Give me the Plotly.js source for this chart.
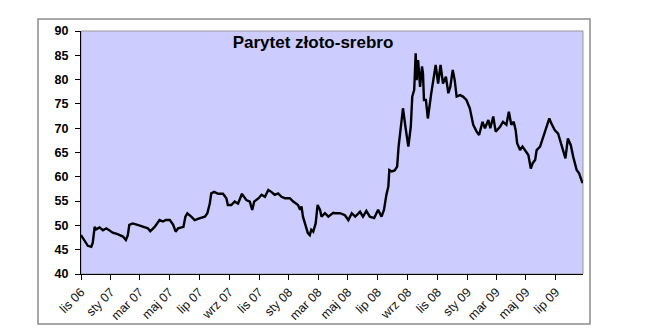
<!DOCTYPE html>
<html>
<head>
<meta charset="utf-8">
<script src="https://cdn.plot.ly/plotly-3.0.1.min.js"></script>
<style>html,body{margin:0;padding:0;background:#fff;}#chart{width:645px;height:330px;}</style>
</head>
<body>
<div id="chart"></div>
<script>
const dates = [
"2006-11-01","2006-11-08","2006-11-15","2006-11-22","2006-11-25","2006-11-29","2006-12-02","2006-12-09","2006-12-16","2006-12-23","2006-12-30",
"2007-01-05","2007-01-15","2007-01-26","2007-02-01","2007-02-05","2007-02-08","2007-02-15","2007-02-25","2007-03-08","2007-03-18","2007-03-23",
"2007-04-01","2007-04-11","2007-04-18","2007-04-24","2007-05-02","2007-05-09","2007-05-14","2007-05-19","2007-05-30","2007-06-03","2007-06-07",
"2007-06-15","2007-06-22","2007-07-03","2007-07-13","2007-07-18","2007-07-23","2007-07-26","2007-08-01","2007-08-09","2007-08-19","2007-08-26",
"2007-08-29","2007-09-05","2007-09-12","2007-09-19","2007-09-27","2007-10-06","2007-10-13","2007-10-18","2007-10-22","2007-10-31","2007-11-06",
"2007-11-13","2007-11-20","2007-11-26","2007-12-03","2007-12-10","2007-12-17","2007-12-24","2008-01-03","2008-01-10","2008-01-20","2008-01-24",
"2008-01-27","2008-01-30","2008-02-03","2008-02-06","2008-02-09","2008-02-13","2008-02-16","2008-02-20","2008-02-25","2008-02-29","2008-03-05",
"2008-03-08","2008-03-15","2008-03-22","2008-04-01","2008-04-04","2008-04-15","2008-04-25","2008-05-02","2008-05-09","2008-05-16","2008-05-26",
"2008-06-01","2008-06-08","2008-06-15","2008-06-24","2008-07-02","2008-07-09","2008-07-14","2008-07-19","2008-07-23","2008-07-25","2008-07-30",
"2008-08-05","2008-08-10","2008-08-13","2008-08-17","2008-08-22","2008-08-27","2008-09-02","2008-09-07","2008-09-10","2008-09-14","2008-09-17",
"2008-09-19","2008-09-22","2008-09-26","2008-09-30","2008-10-02","2008-10-04","2008-10-08","2008-10-12","2008-10-19","2008-10-23","2008-10-28",
"2008-11-02","2008-11-07","2008-11-12","2008-11-18","2008-11-23","2008-11-27","2008-12-02","2008-12-06","2008-12-10","2008-12-17","2008-12-23",
"2008-12-30","2009-01-06","2009-01-13","2009-01-20","2009-01-25","2009-02-01","2009-02-06","2009-02-13","2009-02-17","2009-02-23","2009-02-28",
"2009-03-09","2009-03-15","2009-03-22","2009-03-27","2009-04-01","2009-04-06","2009-04-10","2009-04-13","2009-04-19","2009-04-24","2009-05-01",
"2009-05-06","2009-05-11","2009-05-15","2009-05-20","2009-05-23","2009-05-30","2009-06-05","2009-06-12","2009-06-18","2009-06-22","2009-06-29",
"2009-07-06","2009-07-13","2009-07-16","2009-07-21","2009-07-26","2009-08-01","2009-08-06","2009-08-13","2009-08-18","2009-08-23","2009-08-25"
];
const ratio = [
48.0,47.0,45.8,45.6,46.4,49.7,49.2,49.6,49.0,49.4,48.9,
48.5,48.2,47.7,47.0,48.0,50.1,50.4,50.1,49.7,49.4,48.8,
49.7,51.1,50.8,51.1,51.1,50.1,48.7,49.4,49.7,51.8,52.5,
51.8,51.1,51.5,51.8,52.5,54.5,56.6,56.9,56.5,56.5,55.6,
54.2,54.2,54.9,54.5,56.5,55.2,54.9,53.2,54.9,55.6,56.3,
55.9,57.3,56.9,56.3,56.6,55.9,55.6,55.6,54.9,54.2,53.2,
53.9,51.8,50.4,49.1,48.4,48.0,49.1,48.7,50.4,54.2,53.2,
51.8,52.5,51.8,52.6,52.5,52.5,52.1,51.1,52.5,51.8,52.8,
51.8,53.0,51.8,51.5,53.2,51.8,53.2,56.3,58.0,61.4,61.1,
61.3,62.1,66.2,70.3,74.1,70.3,66.2,70.3,76.5,77.9,85.4,
79.9,84.0,78.5,82.7,81.3,75.8,75.8,72.0,77.2,79.6,83.0,
79.2,83.0,79.2,80.6,77.2,78.5,82.0,79.9,76.5,76.8,76.5,
75.8,74.1,70.7,69.3,68.6,71.3,70.0,71.7,70.0,72.4,69.3,
70.3,71.3,70.7,73.4,70.7,71.3,69.6,66.9,65.5,66.2,65.2,
64.5,61.7,62.8,63.5,65.5,66.2,67.9,70.0,72.0,71.0,69.6,
68.9,66.5,65.8,63.8,67.9,66.5,64.1,61.4,60.7,59.3,58.7
];
const tickDates = ["2006-11-01","2007-01-01","2007-03-01","2007-05-01","2007-07-01","2007-09-01","2007-11-01","2008-01-01","2008-03-01","2008-05-01","2008-07-01","2008-09-01","2008-11-01","2009-01-01","2009-03-01","2009-05-01","2009-07-01"];
const tickLabels = ["lis 06","sty 07","mar 07","maj 07","lip 07","wrz 07","lis 07","sty 08","mar 08","maj 08","lip 08","wrz 08","lis 08","sty 09","mar 09","maj 09","lip 09"];
const yTicks = [40,45,50,55,60,65,70,75,80,85,90];
const chartTitle = "Parytet złoto-srebro";

const trace = {
  x: dates, y: ratio, type: "scatter", mode: "lines",
  line: {color: "#000000", width: 2.4}, hoverinfo: "skip"
};
const L = 81, R = 583, T = 31, B = 274, W = 645, H = 330;
const pw = R - L, ph = B - T;
const layout = {
  width: W, height: H,
  margin: {l: L, r: W - R, t: T, b: H - B, pad: 0},
  paper_bgcolor: "#ffffff",
  plot_bgcolor: "#ccccff",
  showlegend: false,
  font: {family: "Liberation Sans, Arial, sans-serif", color: "#000"},
  title: {
    text: "<b>" + chartTitle + "</b>",
    font: {size: 17, color: "#000", family: "Liberation Sans, Arial, sans-serif"},
    xref: "paper", yref: "paper", x: (313 - L) / pw, y: (B - 42) / ph,
    xanchor: "center", yanchor: "middle"
  },
  xaxis: {
    type: "date", range: ["2006-11-01", "2009-08-26"],
    tickmode: "array", tickvals: tickDates, ticktext: tickLabels,
    tickangle: -45, ticks: "outside", ticklen: 5, tickwidth: 1, tickcolor: "#000",
    showline: true, linecolor: "#000", linewidth: 1, showgrid: false, zeroline: false,
    tickfont: {size: 12.5, color: "#111", family: "Liberation Sans, Arial, sans-serif"}
  },
  yaxis: {
    range: [40, 90], tickmode: "array", tickvals: yTicks, ticktext: yTicks.map(String),
    ticks: "outside", ticklen: 5, tickwidth: 1, tickcolor: "#000",
    showline: true, linecolor: "#000", linewidth: 1, showgrid: false, zeroline: false,
    ticklabelstandoff: 4,
    tickfont: {size: 12.5, color: "#000", family: "Liberation Sans, Arial, sans-serif", weight: "bold"}
  },
  shapes: [
    {type: "rect", xref: "paper", yref: "paper",
     x0: (38 - L) / pw, x1: (590 - L) / pw, y0: (B - 324) / ph, y1: (B - 19) / ph,
     line: {color: "#8c8c8c", width: 1.5}, fillcolor: "rgba(0,0,0,0)", layer: "below"},
    {type: "rect", xref: "paper", yref: "paper", x0: 0, x1: 1, y0: 0, y1: 1,
     line: {color: "#999999", width: 1}, fillcolor: "rgba(0,0,0,0)", layer: "below"}
  ]
};
Plotly.newPlot("chart", [trace], layout, {staticPlot: true, displayModeBar: false});
</script>
</body>
</html>
